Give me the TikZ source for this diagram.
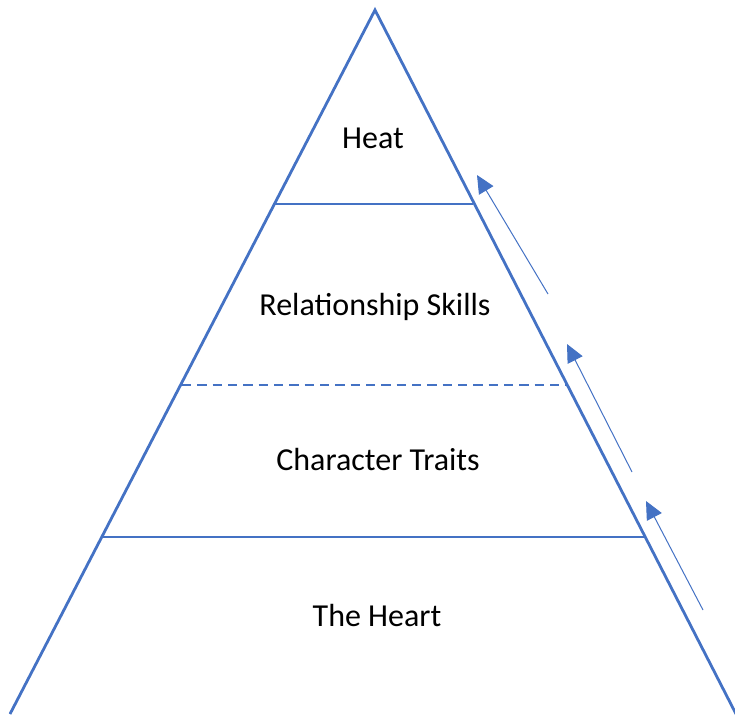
\documentclass[tikz,border=0pt]{standalone}
\usepackage{fontspec}
\setmainfont{Carlito}
\usetikzlibrary{arrows.meta}
\definecolor{pyrblue}{HTML}{4472C4}
\begin{document}
\begin{tikzpicture} [x=0.75pt, y=-0.75pt]
\tikzstyle{every node}=[font=\fontsize{24}{28}\selectfont, text=black];
\tikzstyle{side}=[draw=pyrblue, line width=2.1pt, line join=miter];
\tikzstyle{layer}=[draw=pyrblue, line width=1.1pt];
\tikzstyle{climb}=[draw=pyrblue, line width=0.75pt, -{Triangle[length=13.5pt, width=12.5pt]}];
\useasboundingbox (0,0) rectangle (735,715);
\coordinate (apex) at (375,10);
\coordinate (bl) at (10,714);
\coordinate (br) at (736,714);
\draw [side] (bl) -- (apex) -- (br); % outline
\coordinate (l1) at (275,204);
\coordinate (r1) at (473,204);
\coordinate (l2) at (182,385);
\coordinate (r2) at (567,385);
\coordinate (l3) at (101,537);
\coordinate (r3) at (645,537);
\draw [layer] (l1) -- (r1);
\draw [layer, dash pattern=on 7pt off 4.5pt] (l2) -- (r2);
\draw [layer] (l3) -- (r3);
\node (heat) at (373,138) {Heat};
\node (skills) at (375,307) {Relationship Skills};
\node (traits) at (378,459) {Character Traits};
\node (heart) at (377,615) {The Heart};
\coordinate (t1) at (548,294);
\coordinate (h1) at (477,175);
\coordinate (t2) at (632,472);
\coordinate (h2) at (567,344);
\coordinate (t3) at (703,610);
\coordinate (h3) at (646,501);
\draw [climb] (t1) -- (h1); % arrows
\draw [climb] (t2) -- (h2);
\draw [climb] (t3) -- (h3);
\end{tikzpicture}
\end{document}
